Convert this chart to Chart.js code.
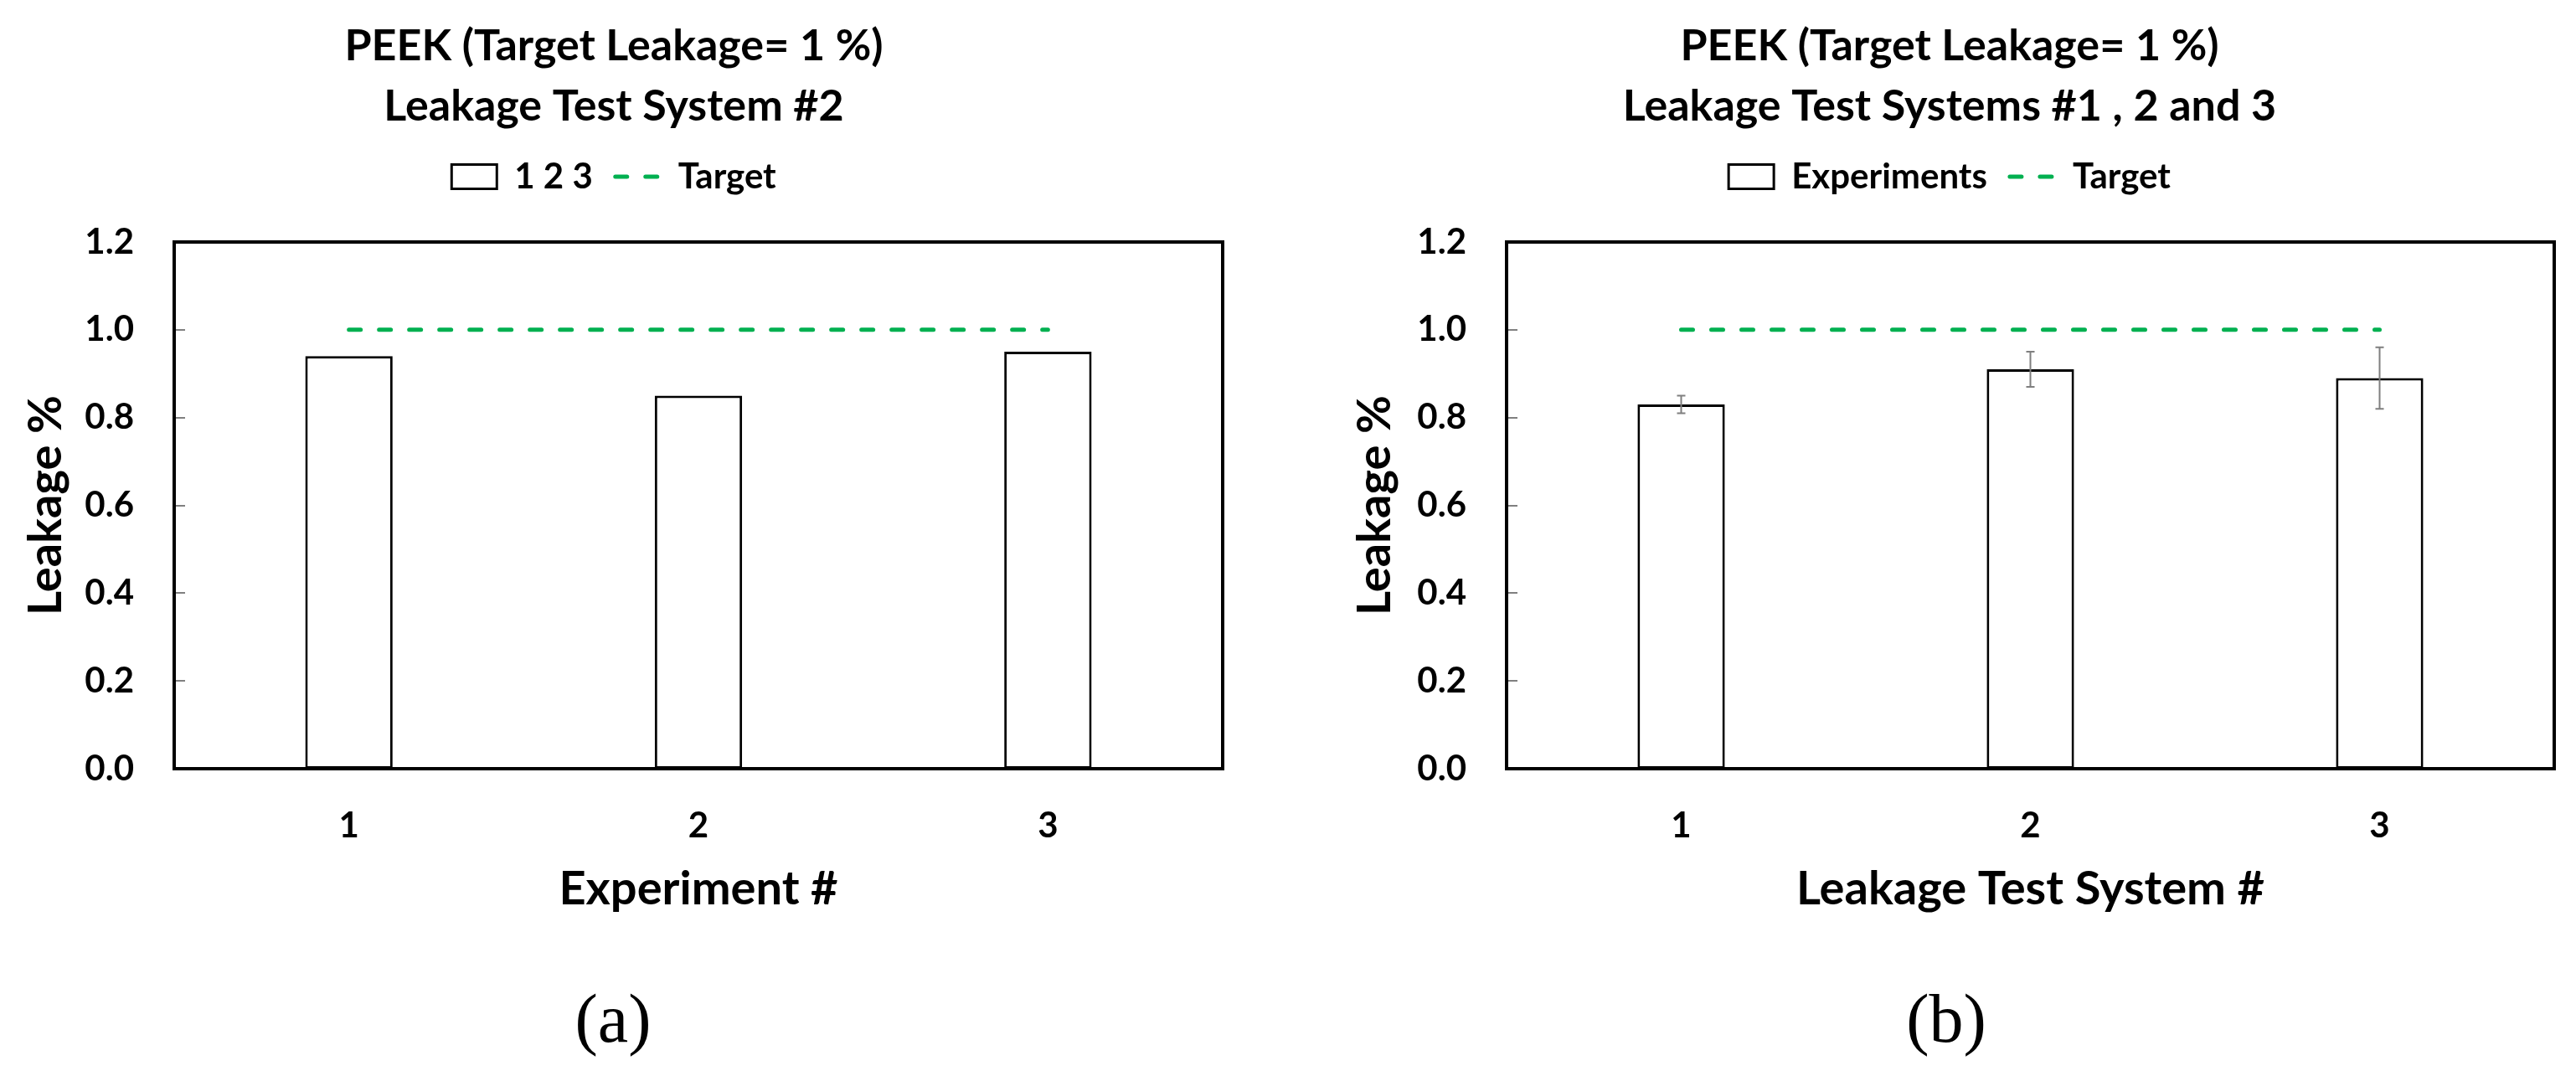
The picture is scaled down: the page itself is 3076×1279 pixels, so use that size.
<!DOCTYPE html>
<html>
<head>
<meta charset="utf-8">
<script src="https://cdn.jsdelivr.net/npm/chart.js@4.4.1/dist/chart.umd.min.js"></script>
<style>
    html, body { margin: 0; padding: 0; background: #fff; }
    body { width: 3076px; height: 1279px; position: relative; overflow: hidden; }
    .panel { position: absolute; top: 0; }
    .tag {
        position: absolute;
        font-family: "Liberation Serif", serif;
        font-size: 82px;
        line-height: 82px;
        color: #000;
        transform: translateX(-50%);
    }
</style>
</head>
<body>
<div class="panel" style="left:0px"><canvas id="chart-a" width="1466" height="1130"></canvas></div>
<div class="panel" style="left:1580px"><canvas id="chart-b" width="1496" height="1130"></canvas></div>
<div class="tag" style="left:732px; top:1176px">(a)</div>
<div class="tag" style="left:2324px; top:1176px">(b)</div>

<script>
// DATA
const experiments = ['1', '2', '3'];
const leakageSystem2 = [0.94, 0.85, 0.95];

const testSystems = ['1', '2', '3'];
const leakageAllSystems = [0.83, 0.91, 0.89];
const leakageAllErrors = [0.02, 0.04, 0.07];

const targetLeakage = [1, 1, 1];

const yMin = 0;
const yMax = 1.2;
const yStep = 0.2;

const titleLine1 = 'PEEK (Target Leakage= 1 %)';
const targetGreen = '#00B050';

Chart.defaults.font.family = 'Lato';
Chart.defaults.font.weight = 'bold';
Chart.defaults.color = '#000';

/* PLUGINS */

// black box round the plot area and small grey ticks inside the y axis
const plotFrame = {
    id: 'plotFrame',
    afterDraw(chart) {
        const { ctx, chartArea } = chart;
        const yScale = chart.scales.y;
        ctx.save();
        ctx.strokeStyle = '#808080';
        ctx.lineWidth = 2;
        yScale.ticks.forEach(tick => {
            const py = Math.round(yScale.getPixelForValue(tick.value));
            ctx.beginPath();
            ctx.moveTo(chartArea.left, py);
            ctx.lineTo(chartArea.left + 13, py);
            ctx.stroke();
        });
        ctx.strokeStyle = '#000';
        ctx.lineWidth = 4;
        ctx.strokeRect(chartArea.left, chartArea.top,
            chartArea.right - chartArea.left, chartArea.bottom - chartArea.top);
        ctx.restore();
    }
};

// +/- error bars on the first (bar) dataset
const errorBars = {
    id: 'errorBars',
    afterDatasetsDraw(chart, args, opts) {
        if (!opts.values) return;
        const { ctx } = chart;
        const yScale = chart.scales.y;
        const values = chart.data.datasets[0].data;
        const meta = chart.getDatasetMeta(0);
        ctx.save();
        ctx.strokeStyle = '#7f7f7f';
        ctx.lineWidth = 2;
        meta.data.forEach((bar, i) => {
            const top = yScale.getPixelForValue(values[i] + opts.values[i]);
            const bottom = yScale.getPixelForValue(values[i] - opts.values[i]);
            ctx.beginPath();
            ctx.moveTo(bar.x, top);
            ctx.lineTo(bar.x, bottom);
            ctx.moveTo(bar.x - 5, top);
            ctx.lineTo(bar.x + 5, top);
            ctx.moveTo(bar.x - 5, bottom);
            ctx.lineTo(bar.x + 5, bottom);
            ctx.stroke();
        });
        ctx.restore();
    }
};

// makes the legend box taller so the plot starts lower
const legendGap = {
    id: 'legendGap',
    beforeLayout(chart, args, opts) {
        const legend = chart.legend;
        if (!legend || legend._gapWrapped) return;
        const fit = legend.fit;
        legend.fit = function () {
            fit.call(this);
            this.height = opts.height;
        };
        legend._gapWrapped = true;
    }
};

function legendItems(chart) {
    return chart.data.datasets.map((ds, i) => ({
        text: ds.label,
        fillStyle: ds.type === 'line' ? 'rgba(0,0,0,0)' : '#fff',
        strokeStyle: ds.borderColor,
        lineWidth: ds.type === 'line' ? 5 : 3,
        lineDash: ds.borderDash || [],
        lineCap: ds.borderCapStyle || 'butt',
        pointStyle: ds.type === 'line' ? 'line' : 'rect',
        fontColor: '#000',
        hidden: false,
        datasetIndex: i
    }));
}

/* CHARTS */

function buildChart(canvasId, setup) {
    return new Chart(document.getElementById(canvasId), {
        type: 'bar',
        data: {
            labels: setup.labels,
            datasets: [{
                label: setup.barLabel,
                data: setup.values,
                backgroundColor: '#fff',
                borderColor: '#000',
                borderWidth: 3,
                borderSkipped: false,
                barPercentage: 0.25,
                categoryPercentage: 1,
                order: 2
            }, {
                type: 'line',
                label: 'Target',
                data: targetLeakage,
                borderColor: targetGreen,
                borderWidth: 5,
                borderDash: [14, 22],
                borderCapStyle: 'round',
                pointRadius: 0,
                fill: false,
                order: 1
            }]
        },
        options: {
            responsive: false,
            animation: false,
            layout: {
                padding: { left: setup.sidePad, right: setup.sidePad, top: 0, bottom: 0 }
            },
            plugins: {
                title: {
                    display: true,
                    text: [titleLine1, setup.title2],
                    font: { size: 52, weight: 'bold', lineHeight: '72px' },
                    color: '#000',
                    padding: { top: 19, bottom: 0 }
                },
                legend: {
                    display: true,
                    labels: {
                        usePointStyle: true,
                        pointStyleWidth: 54,
                        boxHeight: 29,
                        padding: 27,
                        font: { size: 42, weight: 'bold' },
                        color: '#000',
                        generateLabels: legendItems
                    }
                },
                tooltip: { enabled: false },
                legendGap: { height: 289 - 163 },
                errorBars: { values: setup.errors }
            },
            scales: {
                x: {
                    grid: { display: false, drawTicks: false },
                    border: { display: false },
                    ticks: { font: { size: 42, weight: 'bold' }, padding: 43, color: '#000' },
                    title: {
                        display: true,
                        text: setup.xTitle,
                        font: { size: 56, weight: 'bold' },
                        color: '#000',
                        padding: { top: 0, bottom: 34 }
                    },
                    afterFit: scale => { scale.height = 212; }
                },
                y: {
                    min: yMin,
                    max: yMax,
                    grid: { display: false, drawTicks: false },
                    border: { display: false },
                    ticks: {
                        stepSize: yStep,
                        padding: 48,
                        color: '#000',
                        font: { size: 42, weight: 'bold' },
                        callback: v => Number(v).toFixed(1)
                    },
                    title: {
                        display: true,
                        text: 'Leakage %',
                        font: { size: 56, weight: 'bold' },
                        color: '#000',
                        padding: { top: setup.yTitlePad, bottom: 0 }
                    },
                    afterFit: scale => { scale.width = setup.yWidth; }
                }
            }
        },
        plugins: [legendGap, plotFrame, errorBars]
    });
}

let chartA = buildChart('chart-a', {
    labels: experiments,
    values: leakageSystem2,
    errors: null,
    barLabel: '1 2 3',
    title2: 'Leakage Test System #2',
    xTitle: 'Experiment #',
    sidePad: 6,
    yWidth: 202,
    yTitlePad: 15
});

let chartB = buildChart('chart-b', {
    labels: testSystems,
    values: leakageAllSystems,
    errors: leakageAllErrors,
    barLabel: 'Experiments',
    title2: 'Leakage Test Systems #1 , 2 and 3',
    xTitle: 'Leakage Test System #',
    sidePad: 26,
    yWidth: 193,
    yTitlePad: 2
});
</script>
</body>
</html>
